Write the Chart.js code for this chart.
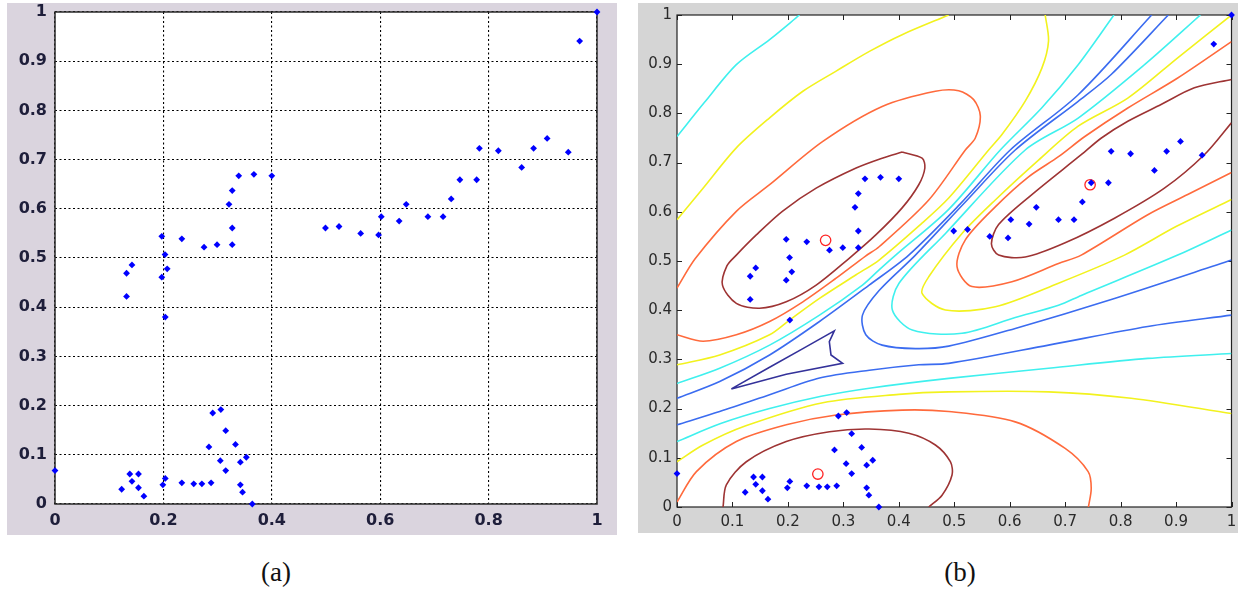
<!DOCTYPE html>
<html>
<head>
<meta charset="utf-8">
<script src="https://cdn.jsdelivr.net/npm/chart.js@4.4.1/dist/chart.umd.min.js"></script>
<style>
  body { margin: 0; width: 1238px; height: 590px; background: #fff; position: relative; overflow: hidden; }
  #boxA { position: absolute; left: 7px; top: 3px; width: 610px; height: 532px; background: #dad4de; }
  #boxB { position: absolute; left: 638px; top: 3px; width: 600px; height: 530px; background: #d5d5d5; }
  .cap { position: absolute; top: 556px; width: 80px; text-align: center; font-family: "Liberation Serif", serif; font-size: 27px; line-height: 32px; color: #111; }
</style>
</head>
<body>
<div id="boxA"><canvas id="chartA" width="610" height="532"></canvas></div>
<div id="boxB"><canvas id="chartB" width="600" height="530"></canvas></div>
<div class="cap" style="left:236px">(a)</div>
<div class="cap" style="left:920px">(b)</div>
<script>
// sample points (same set in both panels)
const ptX = [1.0, 0.968, 0.783, 0.818, 0.883, 0.908, 0.947, 0.861, 0.747, 0.778,
  0.731, 0.688, 0.716, 0.648, 0.635, 0.602, 0.597, 0.564, 0.524, 0.499,
  0.400, 0.367, 0.339, 0.327, 0.321, 0.327, 0.327, 0.299, 0.275, 0.234,
  0.197, 0.203, 0.207, 0.197, 0.142, 0.132, 0.132, 0.2035, 0, 0.123,
  0.138, 0.154, 0.142, 0.154, 0.164, 0.199, 0.2035, 0.234, 0.256, 0.271,
  0.288, 0.284, 0.291, 0.306, 0.315, 0.333, 0.305, 0.315, 0.342, 0.353,
  0.342, 0.346, 0.364];
const ptY = [1.0, 0.941, 0.723, 0.718, 0.723, 0.743, 0.715, 0.684, 0.659, 0.659,
  0.620, 0.584, 0.584, 0.609, 0.575, 0.584, 0.547, 0.550, 0.564, 0.561,
  0.667, 0.670, 0.667, 0.637, 0.609, 0.561, 0.527, 0.527, 0.522, 0.539,
  0.544, 0.507, 0.478, 0.461, 0.486, 0.469, 0.422, 0.380, 0.068, 0.030,
  0.061, 0.061, 0.046, 0.033, 0.016, 0.039, 0.052, 0.043, 0.041, 0.041,
  0.043, 0.116, 0.185, 0.192, 0.149, 0.121, 0.088, 0.068, 0.085, 0.095,
  0.039, 0.024, 0.0];

// cluster centres (red circles)
const centreX = [0.268, 0.745, 0.254];
const centreY = [0.542, 0.655, 0.067];

// contour lines, [x, y]
const cyanTL = [[0,0.753],[0.05,0.823],[0.107,0.899],[0.167,0.95],[0.221,1.0]];
const yellowTL = [[0,0.584],[0.047,0.648],[0.107,0.73],[0.167,0.791],[0.227,0.845],[0.287,0.886],[0.347,0.926],[0.406,0.96],[0.49,1.0]];
const orangeL = [[0,0.445],[0.033,0.505],[0.107,0.601],[0.167,0.655],[0.263,0.743],[0.37,0.814],[0.466,0.845],[0.508,0.846],[0.535,0.828],[0.547,0.795],[0.538,0.75],[0.52,0.7256],[0.454,0.624],[0.3645,0.529],[0.34,0.51],[0.287,0.465],[0.227,0.417],[0.167,0.377],[0.107,0.35],[0.047,0.337],[0,0.35]];
const brownL = [[0.406,0.7215],[0.442,0.709],[0.447,0.689],[0.436,0.655],[0.406,0.608],[0.3585,0.553],[0.31,0.505],[0.251,0.451],[0.197,0.417],[0.149,0.404],[0.107,0.414],[0.082,0.451],[0.09,0.49],[0.107,0.512],[0.143,0.553],[0.19,0.601],[0.251,0.648],[0.323,0.689],[0.37,0.709],[0.406,0.7215]];
const yellowL = [[0,0.289],[0.077,0.309],[0.167,0.35],[0.203,0.38],[0.257,0.424],[0.323,0.472],[0.3645,0.502],[0.44,0.575],[0.49,0.628],[0.562,0.7256],[0.586,0.757],[0.628,0.825],[0.658,0.892],[0.67,0.947],[0.664,1.0]];
const cyanL = [[0,0.251],[0.077,0.282],[0.167,0.329],[0.257,0.39],[0.3345,0.451],[0.3645,0.482],[0.3944,0.512],[0.49,0.605],[0.583,0.7256],[0.6576,0.811],[0.7235,0.899],[0.788,1.0]];
const blueL = [[0,0.221],[0.077,0.255],[0.167,0.309],[0.257,0.377],[0.3465,0.451],[0.418,0.512],[0.51,0.615],[0.601,0.7256],[0.7235,0.838],[0.856,1.0]];
const blueR = [[0.886,1.0],[0.783,0.879],[0.7235,0.8246],[0.61,0.7256],[0.52,0.62],[0.43,0.512],[0.3645,0.44],[0.3345,0.39],[0.3405,0.35],[0.37,0.329],[0.43,0.322],[0.49,0.327],[0.61,0.363],[0.789,0.424],[1.0,0.502]];
const cyanR = [[0.944,1.0],[0.8432,0.899],[0.7235,0.7905],[0.628,0.7256],[0.4842,0.556],[0.4004,0.4547],[0.3884,0.4004],[0.4243,0.3598],[0.514,0.353],[0.61,0.385],[0.688,0.41],[0.729,0.43],[0.903,0.512],[1.0,0.563]];
const yellowR = [[1.0,1.0],[0.903,0.913],[0.813,0.831],[0.7235,0.774],[0.652,0.705],[0.574,0.624],[0.514,0.556],[0.454,0.468],[0.442,0.434],[0.4842,0.4004],[0.574,0.407],[0.688,0.455],[0.807,0.512],[0.9,0.57],[1.0,0.625]];
const orangeR = [[1.0,0.946],[0.903,0.872],[0.813,0.811],[0.7355,0.753],[0.688,0.712],[0.634,0.671],[0.574,0.61],[0.52,0.543],[0.505,0.4885],[0.532,0.448],[0.604,0.458],[0.688,0.495],[0.729,0.512],[0.849,0.594],[0.921,0.635],[1.0,0.68]];
const brownR = [[1.0,0.869],[0.933,0.852],[0.873,0.818],[0.813,0.784],[0.7654,0.75],[0.729,0.716],[0.64,0.635],[0.58,0.574],[0.567,0.535],[0.58,0.512],[0.628,0.508],[0.70,0.537],[0.789,0.587],[0.879,0.648],[0.951,0.716],[1.0,0.781]];
const blueLow = [[0,0.167],[0.077,0.194],[0.167,0.228],[0.257,0.262],[0.347,0.278],[0.436,0.289],[0.49,0.292],[0.67,0.329],[0.849,0.367],[1.0,0.39]];
const cyanLow = [[0,0.133],[0.08,0.17],[0.167,0.2],[0.26,0.225],[0.35,0.242],[0.49,0.2615],[0.67,0.282],[0.849,0.302],[1.0,0.312]];
const yellowLow = [[0,0.092],[0.047,0.126],[0.124,0.165],[0.263,0.212],[0.40,0.229],[0.49,0.234],[0.67,0.234],[0.819,0.221],[1.0,0.19]];
const orangeLow = [[0,0.01],[0.035,0.072],[0.107,0.133],[0.197,0.167],[0.287,0.187],[0.406,0.197],[0.49,0.194],[0.61,0.173],[0.70,0.119],[0.7415,0.072],[0.747,0.038],[0.742,0.0]];
const brownLow = [[0.083,0.0],[0.089,0.045],[0.125,0.092],[0.197,0.133],[0.275,0.153],[0.3465,0.1585],[0.418,0.15],[0.466,0.126],[0.493,0.092],[0.496,0.065],[0.478,0.024],[0.454,0.0]];
const navyLoop = [[0.098,0.24],[0.167,0.284],[0.227,0.322],[0.2837,0.358],[0.2747,0.336],[0.2777,0.309],[0.2986,0.292],[0.197,0.27],[0.098,0.24]];

const colNavy = '#34329a', colBlue = '#3b6cf0', colCyan = '#3ff0ee', colYellow = '#f2f21e', colOrange = '#ff6a3c', colBrown = '#9e3434';

const contours = [
  [cyanTL, colCyan], [yellowTL, colYellow], [orangeL, colOrange], [brownL, colBrown],
  [yellowL, colYellow], [cyanL, colCyan], [blueL, colBlue], [blueR, colBlue],
  [cyanR, colCyan], [yellowR, colYellow], [orangeR, colOrange], [brownR, colBrown],
  [blueLow, colBlue], [cyanLow, colCyan], [yellowLow, colYellow], [orangeLow, colOrange],
  [brownLow, colBrown], [navyLoop, colNavy]
];

const points = ptX.map((x, i) => ({ x, y: ptY[i] }));
const centres = centreX.map((x, i) => ({ x, y: centreY[i] }));

// matlab style labels: 0, 0.1 ... 1
const tickText = v => String(+Number(v).toFixed(1));

// keep the plot box where the layout padding puts it, labels may overhang
function fixX(h) { return s => { s.height = h; s.paddingLeft = 0; s.paddingRight = 0; }; }
function fixY(w) { return s => { s.width = w; s.paddingTop = 0; s.paddingBottom = 0; }; }

// white plot area, box and (optionally) inward ticks like matlab
const frame = {
  id: 'frame',
  beforeDraw(chart) {
    const a = chart.chartArea, c = chart.ctx;
    c.save();
    c.fillStyle = '#fff';
    c.fillRect(a.left, a.top, a.right - a.left, a.bottom - a.top);
    c.restore();
  },
  beforeDatasetsDraw(chart, args, opts) {
    const a = chart.chartArea, c = chart.ctx;
    c.save();
    c.strokeStyle = opts.color;
    c.lineWidth = opts.width;
    c.strokeRect(a.left, a.top, a.right - a.left, a.bottom - a.top);
    if (opts.tick) {
      const len = opts.tick;
      c.lineWidth = 1;
      c.beginPath();
      chart.scales.x.ticks.forEach(t => {
        const px = Math.round(chart.scales.x.getPixelForValue(t.value)) + 0.5;
        c.moveTo(px, a.bottom); c.lineTo(px, a.bottom - len);
        c.moveTo(px, a.top); c.lineTo(px, a.top + len);
      });
      chart.scales.y.ticks.forEach(t => {
        const py = Math.round(chart.scales.y.getPixelForValue(t.value)) + 0.5;
        c.moveTo(a.left, py); c.lineTo(a.left + len, py);
        c.moveTo(a.right, py); c.lineTo(a.right - len, py);
      });
      c.stroke();
    }
    c.restore();
  }
};

const dotStyle = {
  pointStyle: 'rectRot', pointRadius: 3.4, backgroundColor: '#0000ff', borderWidth: 0, order: 0, clip: false
};

new Chart(document.getElementById('chartA'), {
  type: 'scatter',
  data: { datasets: [Object.assign({ data: points }, dotStyle)] },
  options: {
    responsive: false, animation: false,
    layout: { padding: { top: 9, right: 20, left: 0, bottom: 0 } },
    plugins: { legend: { display: false }, tooltip: { enabled: false }, frame: { color: '#2a2a2a', width: 1.5 } },
    scales: {
      x: {
        min: 0, max: 1,
        ticks: { stepSize: 0.2, color: '#1e1e3a', padding: 7, font: { family: 'DejaVu Sans', size: 16, weight: 'bold' }, callback: tickText },
        grid: { color: '#000', lineWidth: 1.1, drawTicks: false },
        border: { display: false, dash: [2, 2.5] },
        afterFit: fixX(31)
      },
      y: {
        min: 0, max: 1,
        ticks: { stepSize: 0.1, color: '#1e1e3a', padding: 8, font: { family: 'DejaVu Sans', size: 16, weight: 'bold' }, callback: tickText },
        grid: { color: '#000', lineWidth: 1.1, drawTicks: false },
        border: { display: false, dash: [2, 2.5] },
        afterFit: fixY(48)
      }
    }
  },
  plugins: [frame]
});

const lineSets = contours.map(([pts, col]) => ({
  data: pts.map(p => ({ x: p[0], y: p[1] })),
  showLine: true, pointRadius: 0, borderColor: col, borderWidth: 1.6,
  tension: col === colNavy ? 0 : 0.3, fill: false, order: 2
}));

new Chart(document.getElementById('chartB'), {
  type: 'scatter',
  data: {
    datasets: [
      Object.assign({ data: points }, dotStyle),
      { data: centres, pointStyle: 'circle', pointRadius: 5.2, backgroundColor: 'rgba(0,0,0,0)', borderColor: '#ff2424', borderWidth: 1.3, order: 1 }
    ].concat(lineSets)
  },
  options: {
    responsive: false, animation: false,
    layout: { padding: { top: 12, right: 4, left: 0, bottom: 0 } },
    plugins: { legend: { display: false }, tooltip: { enabled: false }, frame: { color: '#222', width: 1.2, tick: 5 } },
    scales: {
      x: {
        min: 0, max: 1,
        ticks: { stepSize: 0.1, color: '#2a2a2a', padding: 6, font: { family: 'DejaVu Sans', size: 15 }, callback: tickText },
        grid: { display: false, drawTicks: false },
        border: { display: false },
        afterFit: fixX(26)
      },
      y: {
        min: 0, max: 1,
        ticks: { stepSize: 0.1, color: '#2a2a2a', padding: 5, font: { family: 'DejaVu Sans', size: 15 }, callback: tickText },
        grid: { display: false, drawTicks: false },
        border: { display: false },
        afterFit: fixY(39)
      }
    }
  },
  plugins: [frame]
});
</script>
</body>
</html>
